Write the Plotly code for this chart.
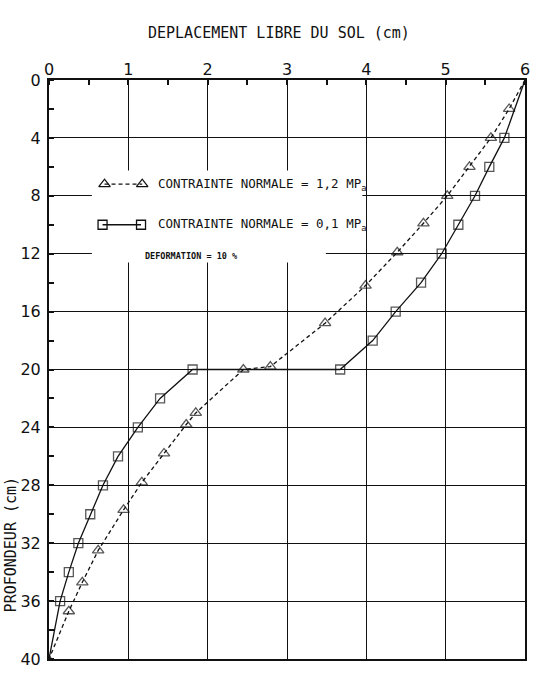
import plotly.graph_objects as go

# ---- data ----
# Series 1: contrainte normale = 1,2 MPa (triangles, dashed)
tri_x = [6.00, 5.80, 5.57, 5.30, 5.02, 4.72, 4.39, 3.99, 3.48, 2.79, 2.45,
         1.85, 1.73, 1.45, 1.17, 0.94, 0.62, 0.42, 0.25, 0.00]
tri_y = [0.0, 2.0, 4.0, 6.0, 8.0, 9.9, 11.9, 14.2, 16.8, 19.8, 20.0,
         23.0, 23.8, 25.8, 27.8, 29.7, 32.5, 34.7, 36.7, 40.0]

# Series 2: contrainte normale = 0,1 MPa (squares, solid)
sq_x = [6.00, 5.74, 5.55, 5.37, 5.16, 4.95, 4.69, 4.37, 4.08, 3.67, 1.81,
        1.40, 1.12, 0.87, 0.68, 0.52, 0.37, 0.25, 0.14, 0.00]
sq_y = [0, 4, 6, 8, 10, 12, 14, 16, 18, 20, 20,
        22, 24, 26, 28, 30, 32, 34, 36, 40]

x_ticks = [0, 1, 2, 3, 4, 5, 6]
y_ticks = [0, 4, 8, 12, 16, 20, 24, 28, 32, 36, 40]

x_title = "DEPLACEMENT LIBRE DU SOL (cm)"
y_title = "PROFONDEUR (cm)"
legend_1 = "CONTRAINTE NORMALE = 1,2 MP<sub>a</sub>"
legend_2 = "CONTRAINTE NORMALE = 0,1 MP<sub>a</sub>"
legend_3 = "<b>DEFORMATION = 10 %</b>"

INK = "#111111"
MONO = "DejaVu Sans Mono"

# per-point marker styling (end points without open marker)
n_tri = len(tri_x)
tri_sym = ["triangle-up-open"] * n_tri
tri_sym[-1] = "triangle-up"
tri_size = [10] * n_tri
tri_size[0] = 0
tri_size[-1] = 7

n_sq = len(sq_x)
sq_size = [9] * n_sq
sq_size[0] = 0
sq_size[-1] = 0

fig = go.Figure()

fig.add_trace(go.Scatter(
    x=tri_x, y=tri_y, mode="lines+markers", showlegend=False,
    line=dict(color=INK, width=1.3, dash="4px,3px"),
    marker=dict(symbol=tri_sym, size=tri_size, color=INK,
                line=dict(color=INK, width=1.3)),
))
fig.add_trace(go.Scatter(
    x=sq_x, y=sq_y, mode="lines+markers", showlegend=False,
    line=dict(color=INK, width=1.3),
    marker=dict(symbol="square-open", size=sq_size, color=INK,
                line=dict(color=INK, width=1.3)),
))

# legend keys (decoration, in data units of the legend box)
fig.add_trace(go.Scatter(
    x=[0.70, 1.175], y=[7.2, 7.2], mode="lines+markers", showlegend=False,
    line=dict(color=INK, width=1.3, dash="4px,3px"),
    marker=dict(symbol="triangle-up-open", size=10, color=INK,
                line=dict(color=INK, width=1.3)),
    hoverinfo="skip",
))
fig.add_trace(go.Scatter(
    x=[0.675, 1.16], y=[10.0, 10.0], mode="lines+markers", showlegend=False,
    line=dict(color=INK, width=1.3),
    marker=dict(symbol="square-open", size=9, color=INK,
                line=dict(color=INK, width=1.3)),
    hoverinfo="skip",
))

# white legend box hiding the grid
fig.add_shape(type="rect", xref="x", yref="y", x0=0.54, x1=3.95, y0=6.25, y1=11.2,
              fillcolor="white", line=dict(width=0), layer="between")
fig.add_shape(type="rect", xref="x", yref="y", x0=0.54, x1=3.49, y0=11.0, y1=12.6,
              fillcolor="white", line=dict(width=0), layer="between")

annotations = [
    dict(text=x_title, xref="paper", yref="paper", x=0.483, y=1.0815,
         xanchor="center", yanchor="middle", showarrow=False,
         font=dict(family=MONO, size=15, color=INK)),
    dict(text=y_title, xref="paper", yref="paper", x=-49 / 480, y=1 - (553 - 80) / 589,
         xanchor="left", yanchor="middle", showarrow=False, textangle=-90,
         font=dict(family=MONO, size=15, color=INK)),
    dict(text=legend_1, xref="x", yref="y", x=1.35, y=7.2,
         xanchor="left", yanchor="middle", showarrow=False,
         font=dict(family=MONO, size=12.5, color=INK)),
    dict(text=legend_2, xref="x", yref="y", x=1.35, y=10.0,
         xanchor="left", yanchor="middle", showarrow=False,
         font=dict(family=MONO, size=12.5, color=INK)),
    dict(text=legend_3, xref="x", yref="y", x=1.79, y=12.15,
         xanchor="center", yanchor="middle", showarrow=False,
         font=dict(family=MONO, size=8.5, color=INK)),
]

fig.update_layout(
    width=539, height=678,
    margin=dict(l=49, r=10, t=80, b=9),
    paper_bgcolor="white", plot_bgcolor="white",
    annotations=annotations,
    xaxis=dict(
        side="top", range=[0, 6], tickmode="array", tickvals=x_ticks,
        ticktext=[str(v) for v in x_ticks], ticks="", ticklabelstandoff=-3,
        showgrid=True, gridcolor=INK, gridwidth=1.4,
        showline=True, linecolor=INK, linewidth=2, mirror=True, zeroline=False,
        tickfont=dict(family="DejaVu Sans", size=16, color=INK),
        minor=dict(dtick=0.5, ticks="inside", ticklen=5, tickcolor=INK, tickwidth=1.5,
                   showgrid=False),
    ),
    yaxis=dict(
        range=[40, 0], tickmode="array", tickvals=y_ticks,
        ticktext=[str(v) for v in y_ticks], ticks="", ticklabelstandoff=3,
        showgrid=True, gridcolor=INK, gridwidth=1.4,
        showline=True, linecolor=INK, linewidth=2, mirror=True, zeroline=False,
        tickfont=dict(family="DejaVu Sans", size=16, color=INK),
        minor=dict(dtick=2, ticks="inside", ticklen=5, tickcolor=INK, tickwidth=1.5,
                   showgrid=False),
    ),
)

fig.write_html("out.html")
